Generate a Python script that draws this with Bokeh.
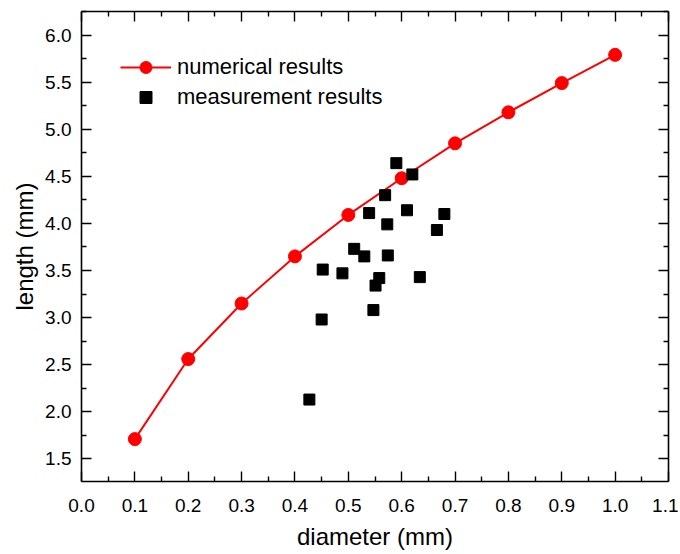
from bokeh.plotting import figure
from bokeh.models import (Range1d, LinearAxis, FixedTicker, NumeralTickFormatter,
                          Legend, LegendItem)
from bokeh.embed import file_html
from bokeh.resources import INLINE

# ---- data ----
x_num = [0.1, 0.2, 0.3, 0.4, 0.5, 0.6, 0.7, 0.8, 0.9, 1.0]
y_num = [1.71, 2.56, 3.15, 3.65, 4.09, 4.48, 4.85, 5.18, 5.49, 5.79]

x_meas = [0.590, 0.620, 0.569, 0.539, 0.610, 0.680, 0.573, 0.666, 0.511, 0.530,
          0.574, 0.452, 0.489, 0.558, 0.551, 0.634, 0.547, 0.450, 0.427]
y_meas = [4.64, 4.52, 4.30, 4.11, 4.14, 4.10, 3.99, 3.93, 3.73, 3.65,
          3.66, 3.51, 3.47, 3.42, 3.34, 3.43, 3.08, 2.98, 2.13]

x_ticks = [0.0, 0.1, 0.2, 0.3, 0.4, 0.5, 0.6, 0.7, 0.8, 0.9, 1.0, 1.1]
x_minor = [0.05, 0.15, 0.25, 0.35, 0.45, 0.55, 0.65, 0.75, 0.85, 0.95, 1.05]
y_ticks = [1.5, 2.0, 2.5, 3.0, 3.5, 4.0, 4.5, 5.0, 5.5, 6.0]
y_minor = [1.25, 1.75, 2.25, 2.75, 3.25, 3.75, 4.25, 4.75, 5.25, 5.75, 6.25]

label_num = "numerical results"
label_meas = "measurement results"
x_title = "diameter (mm)"
y_title = "length (mm)"

FONT = "Liberation Sans"

p = figure(output_backend="svg", toolbar_location=None,
           frame_width=587, frame_height=470,
           min_border_left=81, min_border_right=10,
           min_border_top=11, min_border_bottom=70,
           x_range=Range1d(0, 1.1), y_range=Range1d(1.26, 6.25),
           x_axis_label=x_title, y_axis_label=y_title)
p.grid.visible = False
p.outline_line_color = None
p.background_fill_color = "white"
p.border_fill_color = "white"

xa = p.below[0]
ya = p.left[0]

xt = FixedTicker(ticks=x_ticks, minor_ticks=x_minor)
yt = FixedTicker(ticks=y_ticks, minor_ticks=y_minor)

top_axis = LinearAxis(ticker=xt)
right_axis = LinearAxis(ticker=yt)
p.add_layout(top_axis, "above")
p.add_layout(right_axis, "right")

for ax in [xa, ya, top_axis, right_axis]:
    ax.major_tick_in = 10
    ax.major_tick_out = 0
    ax.minor_tick_in = 5
    ax.minor_tick_out = 0
    ax.axis_line_width = 1.6
    ax.axis_line_color = "black"
    ax.major_tick_line_width = 1.4
    ax.minor_tick_line_width = 1.4
    ax.major_tick_line_color = "black"
    ax.minor_tick_line_color = "black"

for ax in [top_axis, right_axis]:
    ax.major_label_text_font_size = "0px"
    ax.major_label_text_alpha = 0
    ax.major_label_text_color = None
    ax.major_label_standoff = 0
    ax.axis_label = None

xa.ticker = xt
ya.ticker = yt
xa.formatter = NumeralTickFormatter(format="0.0")
ya.formatter = NumeralTickFormatter(format="0.0")
for ax in [xa, ya]:
    ax.major_label_text_font = FONT
    ax.major_label_text_font_size = "19px"
    ax.major_label_text_color = "black"
    ax.axis_label_text_font = FONT
    ax.axis_label_text_font_size = "24px"
    ax.axis_label_text_font_style = "normal"
    ax.axis_label_text_color = "black"
xa.major_label_standoff = 17
xa.axis_label_standoff = 8
ya.major_label_standoff = 10
ya.axis_label_standoff = 4

r_line = p.line(x_num, y_num, line_color="#ff0000", line_width=2)
r_circ = p.scatter(x_num, y_num, marker="circle", size=13,
                   fill_color="#ff0000", line_color="#ff0000")
r_sq = p.scatter(x_meas, y_meas, marker="square", size=11,
                 fill_color="black", line_color="black")

legend = Legend(items=[LegendItem(label=label_num, renderers=[r_line, r_circ]),
                       LegendItem(label=label_meas, renderers=[r_sq])],
                location=(39, 369))
legend.border_line_color = None
legend.background_fill_alpha = 0
legend.padding = 0
legend.margin = 0
legend.spacing = -6
legend.glyph_width = 51
legend.glyph_height = 30
legend.label_standoff = 6
legend.label_text_font = FONT
legend.label_text_font_size = "22px"
legend.label_text_color = "black"
p.add_layout(legend)

open("out.html", "w").write(file_html(p, INLINE))
